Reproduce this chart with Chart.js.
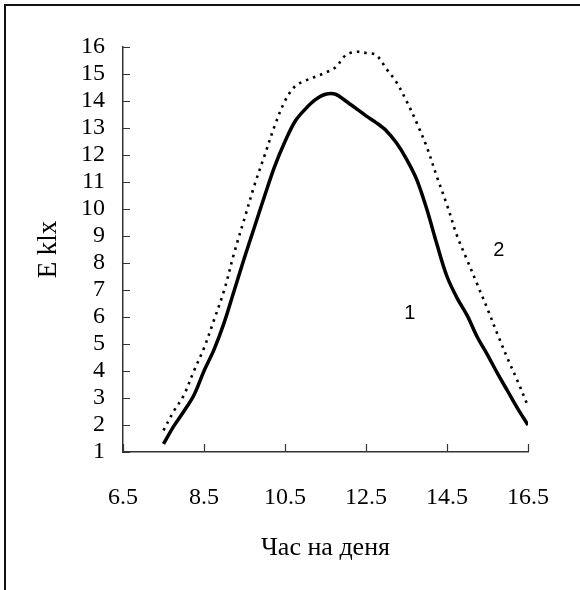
<!DOCTYPE html>
<html>
<head>
<meta charset="utf-8">
<script src="https://cdn.jsdelivr.net/npm/chart.js@4/dist/chart.umd.min.js"></script>
<style>
  html, body { margin: 0; padding: 0; background: #fff; }
  canvas { display: block; }
</style>
</head>
<body>
<canvas id="lightChart" width="580" height="590"></canvas>
<script>
// hour of the day
const hours = [7.5, 7.75, 8, 8.25, 8.5, 8.75, 9, 9.25, 9.5, 9.75, 10, 10.25, 10.5, 10.75,
  11, 11.25, 11.5, 11.75, 12, 12.25, 12.5, 12.75, 13, 13.25, 13.5, 13.75, 14, 14.25,
  14.5, 14.75, 15, 15.25, 15.5, 15.75, 16, 16.25, 16.5];

// curve 1 (solid), E in klx
const curve1 = [1.3, 1.95, 2.5, 3.1, 4.0, 4.8, 5.8, 7.0, 8.2, 9.35, 10.5, 11.6, 12.5, 13.25,
  13.7, 14.05, 14.25, 14.25, 14.0, 13.73, 13.45, 13.2, 12.9, 12.45, 11.85, 11.1, 10.0, 8.7,
  7.5, 6.7, 6.05, 5.25, 4.6, 3.9, 3.25, 2.6, 2.0];

// curve 2 (dotted), E in klx
const curve2 = [1.8, 2.5, 3.1, 4.0, 4.85, 5.9, 7.0, 8.4, 9.65, 10.9, 12.0, 13.1, 14.0, 14.55,
  14.75, 14.9, 15.05, 15.25, 15.7, 15.82, 15.78, 15.7, 15.2, 14.7, 14.0, 13.2, 12.3, 11.2,
  10.15, 9.0, 8.1, 7.2, 6.3, 5.35, 4.45, 3.6, 2.7];

const xTicks = [6.5, 8.5, 10.5, 12.5, 14.5, 16.5];
const yTicks = [1, 2, 3, 4, 5, 6, 7, 8, 9, 10, 11, 12, 13, 14, 15, 16];

// curve numbers placed in data space
const labelText = ["1", "2"];
const labelX = [13.58, 15.78];
const labelY = [6.14, 8.48];

const serif = "'Liberation Serif', 'Times New Roman', serif";

// frame, inward ticks and curve numbers
const extras = {
  id: 'extras',
  afterDraw(chart) {
    const ctx = chart.ctx;
    const x = chart.scales.x, y = chart.scales.y;
    ctx.save();
    ctx.strokeStyle = '#111';
    ctx.lineWidth = 2;
    ctx.beginPath();
    ctx.moveTo(5, 590);
    ctx.lineTo(5, 5);
    ctx.lineTo(580, 5);
    ctx.stroke();

    ctx.strokeStyle = '#333';
    ctx.lineWidth = 1.2;
    ctx.beginPath();
    xTicks.forEach(v => {
      const px = Math.round(x.getPixelForValue(v)) + 0.5;
      ctx.moveTo(px, y.bottom);
      ctx.lineTo(px, y.bottom - 8);
    });
    yTicks.forEach(v => {
      const py = Math.round(y.getPixelForValue(v)) + 0.5;
      ctx.moveTo(x.left, py);
      ctx.lineTo(x.left + 7, py);
    });
    ctx.stroke();

    ctx.fillStyle = '#000';
    ctx.font = "20px 'Liberation Sans', Arial, sans-serif";
    ctx.textAlign = 'center';
    ctx.textBaseline = 'middle';
    labelText.forEach((t, i) => {
      ctx.fillText(t, x.getPixelForValue(labelX[i]), y.getPixelForValue(labelY[i]));
    });
    ctx.restore();
  }
};

new Chart(document.getElementById('lightChart').getContext('2d'), {
  type: 'line',
  data: {
    datasets: [
      {
        label: '1',
        data: hours.map((h, i) => ({ x: h, y: curve1[i] })),
        borderColor: '#000',
        borderWidth: 3.5,
        pointRadius: 0,
        tension: 0.35,
        fill: false
      },
      {
        label: '2',
        data: hours.map((h, i) => ({ x: h, y: curve2[i] })),
        borderColor: '#000',
        borderWidth: 2.6,
        borderDash: [2.5, 5],
        pointRadius: 0,
        tension: 0.35,
        fill: false
      }
    ]
  },
  options: {
    responsive: false,
    animation: false,
    layout: { padding: { left: 0, top: 47, right: 42, bottom: 0 } },
    plugins: { legend: { display: false }, tooltip: { enabled: false } },
    scales: {
      x: {
        type: 'linear',
        min: 6.5,
        max: 16.5,
        afterBuildTicks: s => { s.ticks = xTicks.map(v => ({ value: v })); },
        afterFit: s => { s.height = 138; },
        grid: { drawOnChartArea: false, drawTicks: false },
        border: { display: true, color: '#333', width: 1.5 },
        ticks: { color: '#000', padding: 31, maxRotation: 0, font: { family: serif, size: 24 } },
        title: { display: true, text: 'Час на деня', color: '#000', padding: { bottom: 26 }, font: { family: serif, size: 26 } }
      },
      y: {
        type: 'linear',
        min: 1,
        max: 16,
        afterBuildTicks: s => { s.ticks = yTicks.map(v => ({ value: v })); },
        afterFit: s => { s.width = 123; },
        grid: { drawOnChartArea: false, drawTicks: false },
        border: { display: true, color: '#333', width: 1.5 },
        ticks: { color: '#000', padding: 18, autoSkip: false, font: { family: serif, size: 24 } },
        title: { display: true, text: 'E klx', color: '#000', padding: { top: 33 }, font: { family: serif, size: 27 } }
      }
    }
  },
  plugins: [extras]
});
</script>
</body>
</html>
